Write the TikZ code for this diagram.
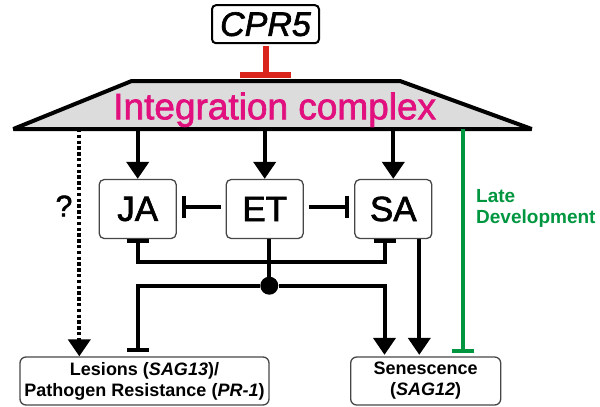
\documentclass[tikz,border=0pt]{standalone}
\usepackage{fontspec}
\setmainfont{Liberation Sans}
\newfontfamily\heavyfont[FakeBold=1.8]{Liberation Sans}
\usetikzlibrary{arrows.meta,positioning}
\definecolor{cplxmagenta}{RGB}{226,16,126}
\definecolor{cprred}{RGB}{218,37,29}
\definecolor{lategreen}{RGB}{0,150,64}
\definecolor{cplxgray}{RGB}{220,220,220}
\definecolor{boxline}{RGB}{70,70,70}

\begin{document}
\begin{tikzpicture}[x=1pt, y=-1pt,
    hormone/.style={draw=boxline, line width=1.3pt, rounded corners=5pt, minimum width=77pt, minimum height=59pt, inner sep=0pt, font=\fontsize{35}{35}\heavyfont},
    outcome/.style={draw=boxline, line width=1.3pt, rounded corners=6pt, minimum height=48pt, inner sep=0pt, align=center, font=\fontsize{18}{21}\selectfont\bfseries},
    act/.style={line width=4pt, -{Triangle[length=17pt, width=22pt]}},
    inhib/.style={line width=4pt, -{Bar[width=22pt]}},
    junction/.style={circle, fill=black, minimum size=18pt, inner sep=0pt}]
  \useasboundingbox (0,0) rectangle (600,407);

  \node[draw, line width=2pt, rounded corners=4pt, minimum width=107pt, minimum height=38pt, inner sep=0pt, font=\fontsize{34}{34}\heavyfont\itshape] (cpr) at (265.5,24.2) {CPR5};

  \filldraw[fill=cplxgray, line width=4pt, line join=bevel] (13.3,129) -- (131.7,81) -- (400,81) -- (531.7,129) -- cycle;
  \coordinate (top) at (0,81);
  \coordinate (base) at (0,129);
  \node[anchor=base, text=cplxmagenta, inner sep=0pt, font=\fontsize{37}{37}\heavyfont] (cplx) at (274.7,119.3) {Integration complex};

  \foreach \n/\t/\x in {ja/JA/137.7, et/ET/264.7, sa/SA/393.3}{
      \node[hormone] (\n) at (\x,209) {\t};
    }

  \node[outcome, minimum width=249pt] (lesions) at (144.5,381) {Lesions (\textit{SAG13})/\\Pathogen Resistance (\textit{PR-1})};
  \node[outcome, minimum width=150pt] (senes) at (425.7,381) {Senescence\\(\textit{SAG12})};

  \node[font=\fontsize{30}{30}\heavyfont, inner sep=0pt] (q) at (64,206) {?};
  \node[anchor=west, align=left, inner sep=0pt, text=lategreen, font=\fontsize{19}{21}\selectfont\bfseries] (late) at (476,208.5) {Late\\Development};

  \coordinate (dots) at (79.3,0);
  \coordinate (grn) at (463.3,0);
  \coordinate (sab) at (384.5,0);
  \coordinate (sar) at (419.3,0);
  \coordinate (bkt) at (0,261.7);
  \node[junction] (jn) at (269.3,285.7) {};

  \draw[line width=6pt, cprred, -{Bar[width=51pt]}, shorten <=2pt, shorten >=3.2pt] (cpr) -- (cpr |- top);

  \foreach \n in {ja,et,sa}{
      \draw[act] (\n |- base) -- (\n);
    }

  \draw[line width=4pt, dash pattern=on 3.3pt off 2.5pt, -{Triangle[length=17pt, width=22pt]}] (dots |- base) -- (dots |- lesions.north);
  \draw[inhib, lategreen, shorten >=3pt] (grn |- base) -- (grn |- senes.north);

  \draw[inhib, shorten <=5pt, shorten >=5.3pt] ([yshift=2.5pt]et.west) -- ([yshift=2.5pt]ja.east);
  \draw[inhib, shorten <=5pt, shorten >=4.7pt] ([yshift=2.5pt]et.east) -- ([yshift=2.5pt]sa.west);

  \draw[line width=4pt, {Bar[width=22pt]}-{Bar[width=22pt]}] (ja.south) |- (sab |- bkt) -- (sab |- sa.south);
  \draw[line width=4pt] (jn |- et.south) -- (jn);
  \draw[inhib, shorten >=4pt] (jn) -| (ja |- lesions.north);
  \draw[act, shorten >=1.5pt] (jn) -| (sab |- senes.north);
  \draw[act, shorten >=1.5pt] (sar |- sa.south) -- (sar |- senes.north);
\end{tikzpicture}
\end{document}
